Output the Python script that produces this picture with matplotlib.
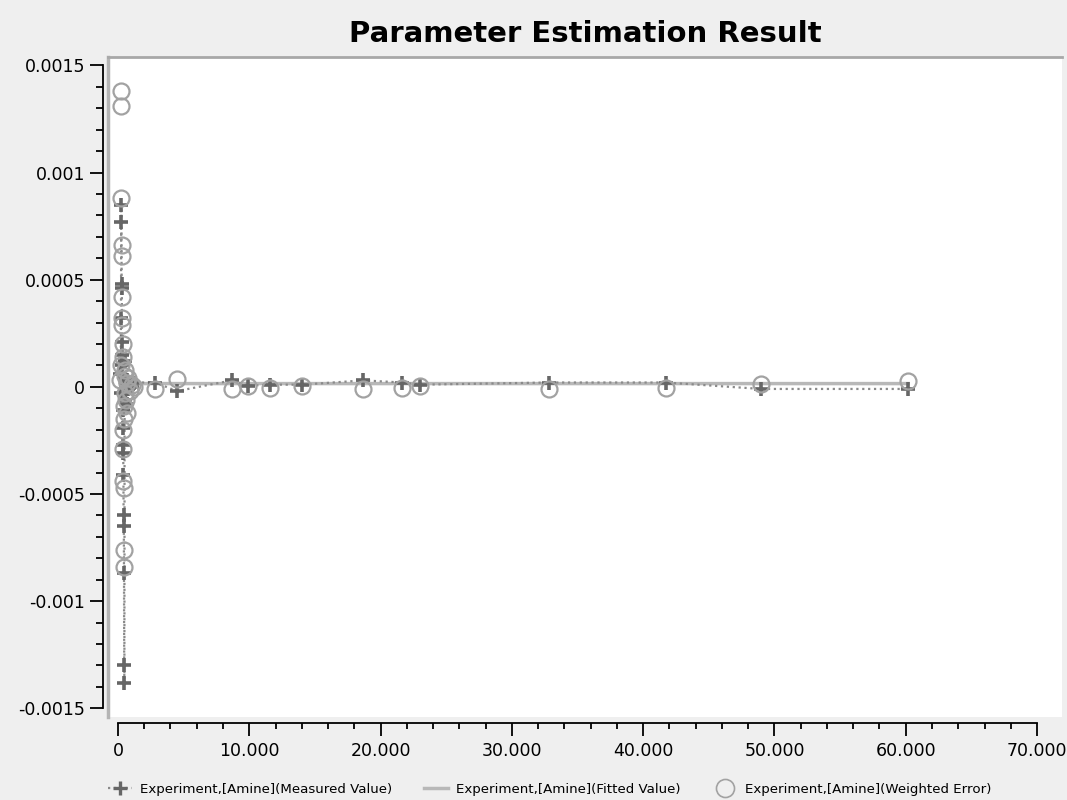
import matplotlib
matplotlib.use("Agg")
import matplotlib.pyplot as plt
from matplotlib.lines import Line2D
from matplotlib.ticker import FuncFormatter, MultipleLocator

# experiment time (x) shared by the three series
time = [150, 200, 230, 250, 265, 280, 295, 310, 325, 340, 355, 370, 385, 400, 415,
        430, 445, 460, 475, 490, 510, 540, 570, 610, 660, 720, 800, 900, 1050, 1250,
        2820, 4500, 8700, 9920, 11590, 14040, 18690, 21660, 23040, 32800, 41720,
        48970, 60180]

measured = [0.00006, -0.00003, 0.00032, 0.00085, 0.00077, 0.00048, 0.00046, 0.00021,
            0.00015, 0.00010, -0.00011, -0.00019, -0.00027, -0.00031, -0.00041,
            -0.00060, -0.00065, -0.00087, -0.00130, -0.00138, 0.00012, 0.00004,
            -0.00006, 0.00002, -0.00008, 0.00003, -0.00001, 0.00001, 0.00000, 0.00002,
            0.00002, -0.00002, 0.00003, 0.000005, 0.00001, 0.00001, 0.00003, 0.00002,
            0.00001, 0.00002, 0.00002, -0.00001, -0.00001]

fitted = [0.00002, 0.00002, 0.00002, 0.00003, 0.00003, 0.00002, 0.00002, 0.00002,
          0.00002, 0.00002, 0.00001, 0.00001, 0.00001, 0.00001, 0.00001, 0.00001,
          0.00001, 0.00001, 0.00001, 0.00001, 0.00002, 0.00002, 0.00002, 0.00002,
          0.00002, 0.00002, 0.00002, 0.00002, 0.000015, 0.000015,
          0.000015, 0.000015, 0.000015, 0.000015, 0.000015, 0.000015, 0.000015,
          0.000015, 0.000015, 0.000015, 0.000015, 0.000015, 0.000015]

weighted_error = [0.00003, 0.00010, 0.00138, 0.00131, 0.00088, 0.00066, 0.00061,
                  0.00042, 0.00032, 0.00029, 0.00020, 0.00014, -0.00020, -0.00029,
                  -0.00044, -0.00047, -0.00076, -0.00084, -0.00015, -0.00009,
                  0.00005, -0.00003, 0.00008, -0.00006, 0.00002, -0.00012, 0.00004,
                  -0.00002, 0.00001, 0.00000,
                  -0.00001, 0.000035, -0.00001, 0.000005, -0.000005, 0.000005,
                  -0.00001, -0.000005, 0.000005, -0.00001, -0.000005, 0.000015,
                  0.000025]

y_ticks = [-0.0015, -0.001, -0.0005, 0, 0.0005, 0.001, 0.0015]
x_ticks = [0, 10000, 20000, 30000, 40000, 50000, 60000, 70000]

labels = ["Experiment,[Amine](Measured Value)",
          "Experiment,[Amine](Fitted Value)",
          "Experiment,[Amine](Weighted Error)"]

c_meas = "#666666"
c_fit = "#b8b8b8"
c_err = "#a2a2a2"

fig = plt.figure(figsize=(10.67, 8.0), dpi=100, facecolor="#efefef")
ax = fig.add_axes([0.1012, 0.104, 0.8941, 0.825])
ax.set_facecolor("white")

ax.plot(time, fitted, color=c_fit, lw=2.5, zorder=2)
ax.plot(time, measured, color="#8a8a8a", ls=":", lw=1.6, zorder=3)
ax.plot(time, measured, ls="none", marker="+", ms=10, mew=2.6, color=c_meas, zorder=4)
ax.plot(time, weighted_error, ls="none", marker="o", ms=11.5, mfc="none",
        mec=c_err, mew=1.6, zorder=5)

ax.set_xlim(-760, 71900)
ax.set_ylim(-0.00154, 0.00154)

# axes: detached black lines, plot area framed in gray
ax.spines["right"].set_visible(False)
ax.spines["top"].set_color("#a8a8a8")
ax.spines["top"].set_linewidth(2)
ax.spines["left"].set_position(("outward", 3.6))
ax.spines["left"].set_bounds(-0.0015, 0.0015)
ax.spines["left"].set_linewidth(1.3)
ax.spines["bottom"].set_position(("outward", 4.3))
ax.spines["bottom"].set_bounds(0, 70000)
ax.spines["bottom"].set_linewidth(1.3)
ax.plot([0, 0], [0, 1], transform=ax.transAxes, color="#b4b4b4", lw=2.5,
        clip_on=False, zorder=1)

ax.set_yticks(y_ticks)
ax.yaxis.set_minor_locator(MultipleLocator(0.0001))
ax.yaxis.set_major_formatter(FuncFormatter(lambda v, p: "0" if abs(v) < 1e-12 else f"{v:g}"))
ax.set_xticks(x_ticks)
ax.xaxis.set_minor_locator(MultipleLocator(2000))
ax.xaxis.set_major_formatter(FuncFormatter(lambda v, p: f"{v:,.0f}".replace(",", ".")))

ax.tick_params(axis="y", which="major", length=9.5, width=1.3, pad=3.5, labelsize=12.5)
ax.tick_params(axis="y", which="minor", length=5, width=1.3)
ax.tick_params(axis="x", which="major", length=9.5, width=1.3, pad=4, labelsize=12.5)
ax.tick_params(axis="x", which="minor", length=4.5, width=1.3)
ax.set_xlim(-760, 71900)

ax.set_title("Parameter Estimation Result", fontsize=21, fontweight="bold", pad=11)

handles = [
    Line2D([], [], color="#8a8a8a", ls=":", lw=1.6, marker="+", ms=10, mew=2.4,
           mec=c_meas),
    Line2D([], [], color=c_fit, lw=2.5),
    Line2D([], [], ls="none", marker="o", ms=13, mfc="none", mec=c_err, mew=1.2),
]
fig.legend(handles, labels, loc="lower center", bbox_to_anchor=(0.515, -0.01),
           ncol=3, frameon=False, fontsize=9.6, handlelength=1.8, columnspacing=2.4,
           handletextpad=0.6)

fig.savefig("out.png", dpi=100, facecolor=fig.get_facecolor())
